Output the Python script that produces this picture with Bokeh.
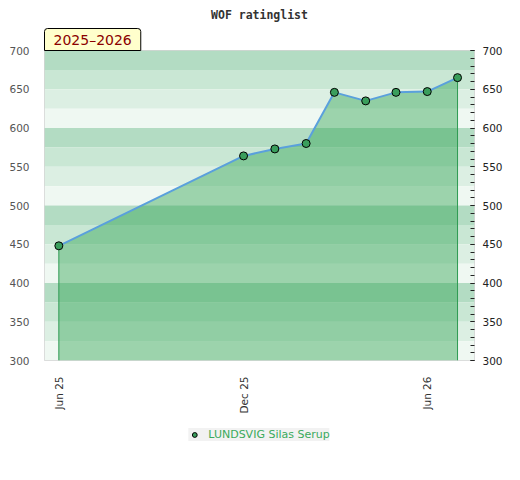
import pandas as pd
from bokeh.plotting import figure
from bokeh.layouts import column
from bokeh.models import (ColumnDataSource, BoxAnnotation, Range1d, LinearAxis,
                          FixedTicker, SingleIntervalTicker, DatetimeTickFormatter,
                          Legend, LegendItem, Title)
from bokeh.embed import file_html
from bokeh.resources import INLINE
import math

# ---- data ----
dates = ["2025-06-01", "2025-12-01", "2026-01-01", "2026-02-01", "2026-03-01",
         "2026-04-01", "2026-05-01", "2026-06-01", "2026-07-01"]
ratings = [448, 564, 573, 580, 646, 635, 646, 647, 665]
player = "LUNDSVIG Silas Serup"
season = "2025\u20132026"
title_text = "WOF ratinglist"
tick_dates = ["2025-06-01", "2025-12-01", "2026-06-01"]
y_min, y_max = 300, 700
band_colors = ["#b3dcc3", "#c9e7d4", "#dcefe3", "#eff8f2"]

dt = pd.to_datetime(dates)
src = ColumnDataSource(dict(x=dt, y=ratings, base=[y_min] * len(ratings)))

x_start = dt[0] - pd.Timedelta(days=14.2)
x_end = dt[-1] + pd.Timedelta(days=16.8)

p = figure(width=518, height=412, frame_width=430, frame_height=310,
           output_backend="svg", toolbar_location=None,
           x_axis_type="datetime", title=None,
           x_range=Range1d(x_start, x_end), y_range=Range1d(y_min, y_max),
           min_border_left=44, min_border_right=44, min_border_top=16,
           min_border_bottom=52, background_fill_color="white",
           border_fill_color="white")

# season box (closest to frame)
season_title = Title(text=season, align="left", text_font="DejaVu Sans",
                     text_font_size="14px", text_font_style="normal",
                     text_color="#8b0000", background_fill_color="#ffffcc",
                     border_line_color="black", border_line_width=1,
                     padding=(9, 3), standoff=0, offset=0,
                     border_radius=dict(top_left=3, top_right=3,
                                        bottom_right=0, bottom_left=0))
p.add_layout(season_title, "above")

main_title = Title(text=title_text, align="center", text_font="DejaVu Sans Mono",
                   text_font_style="bold", text_font_size="11.5px",
                   text_color="#333333", standoff=4, padding=(0, 3))
p.add_layout(main_title, "above")

p.outline_line_color = "#d5d5d5"
p.outline_line_width = 1
p.grid.visible = False

# background bands every 25 units
for i, b in enumerate(range(y_max, y_min, -25)):
    p.add_layout(BoxAnnotation(bottom=b - 25, top=b, fill_color=band_colors[i % 4],
                               fill_alpha=1, line_color=None, level="underlay"))

p.varea(x="x", y1="base", y2="y", source=src, fill_color="#28a04d", fill_alpha=0.42)
p.segment(x0=[dt[0], dt[-1]], y0=[y_min, y_min], x1=[dt[0], dt[-1]],
          y1=[ratings[0], ratings[-1]], line_color="#2e9a52", line_width=1)
p.line(x="x", y="y", source=src, line_color="#5aa0dc", line_width=2)
marker_style = dict(size=8, fill_color="#3a9e5c", line_color="black", line_width=1)
pts = p.scatter(x="x", y="y", source=src, **marker_style)

# x axis
xa = p.xaxis[0]
xa.ticker = FixedTicker(ticks=[pd.Timestamp(d).value / 1e6 for d in tick_dates])
fmt = "%b %y"
xa.formatter = DatetimeTickFormatter(days=fmt, months=fmt, years=fmt, hours=fmt,
                                     minutes=fmt, seconds=fmt, milliseconds=fmt,
                                     microseconds=fmt, minsec=fmt, hourmin=fmt)
xa.major_label_orientation = math.pi / 2
xa.axis_line_color = None
xa.major_tick_line_color = None
xa.minor_tick_line_color = None
xa.major_label_text_font = "DejaVu Sans"
xa.major_label_text_font_size = "10.5px"
xa.major_label_text_color = "#333333"
xa.major_label_standoff = 10

# left axis
ya = p.yaxis[0]
ya.ticker = SingleIntervalTicker(interval=50, num_minor_ticks=5)
ya.axis_line_color = None
ya.major_tick_line_color = None
ya.minor_tick_line_color = None
ya.major_label_text_font = "DejaVu Sans"
ya.major_label_text_font_size = "10.5px"
ya.major_label_text_color = "#555555"
ya.major_label_standoff = 9

# right axis
ra = LinearAxis(ticker=SingleIntervalTicker(interval=50, num_minor_ticks=5))
ra.axis_line_color = None
ra.major_tick_in = 4
ra.major_tick_out = 0
ra.minor_tick_in = 4
ra.minor_tick_out = 0
ra.major_tick_line_color = "#222222"
ra.minor_tick_line_color = "#222222"
ra.major_label_text_font = "DejaVu Sans"
ra.major_label_text_font_size = "10.5px"
ra.major_label_text_color = "#222222"
ra.major_label_standoff = 8
p.add_layout(ra, "right")

# legend strip below the chart
p2 = figure(width=518, height=60, output_backend="svg", toolbar_location=None,
            x_axis_location=None, y_axis_location=None, title=None,
            x_range=Range1d(0, 1), y_range=Range1d(0, 1),
            min_border=0, background_fill_color="white", border_fill_color="white")
p2.outline_line_color = None
p2.grid.visible = False
leg_r = p2.scatter(x="x", y="y", source=src, **marker_style)

legend = Legend(items=[LegendItem(label=player, renderers=[leg_r])],
                location="top_center", orientation="horizontal",
                background_fill_color="#f2f2f2", background_fill_alpha=1,
                border_line_color=None, label_text_color="#3aaa5c",
                label_text_font="DejaVu Sans", label_text_font_size="11px",
                glyph_width=12, glyph_height=13, label_height=13,
                padding=8, label_standoff=8, margin=12)
p2.add_layout(legend)

open("out.html", "w").write(file_html(column(p, p2, spacing=0), INLINE))
